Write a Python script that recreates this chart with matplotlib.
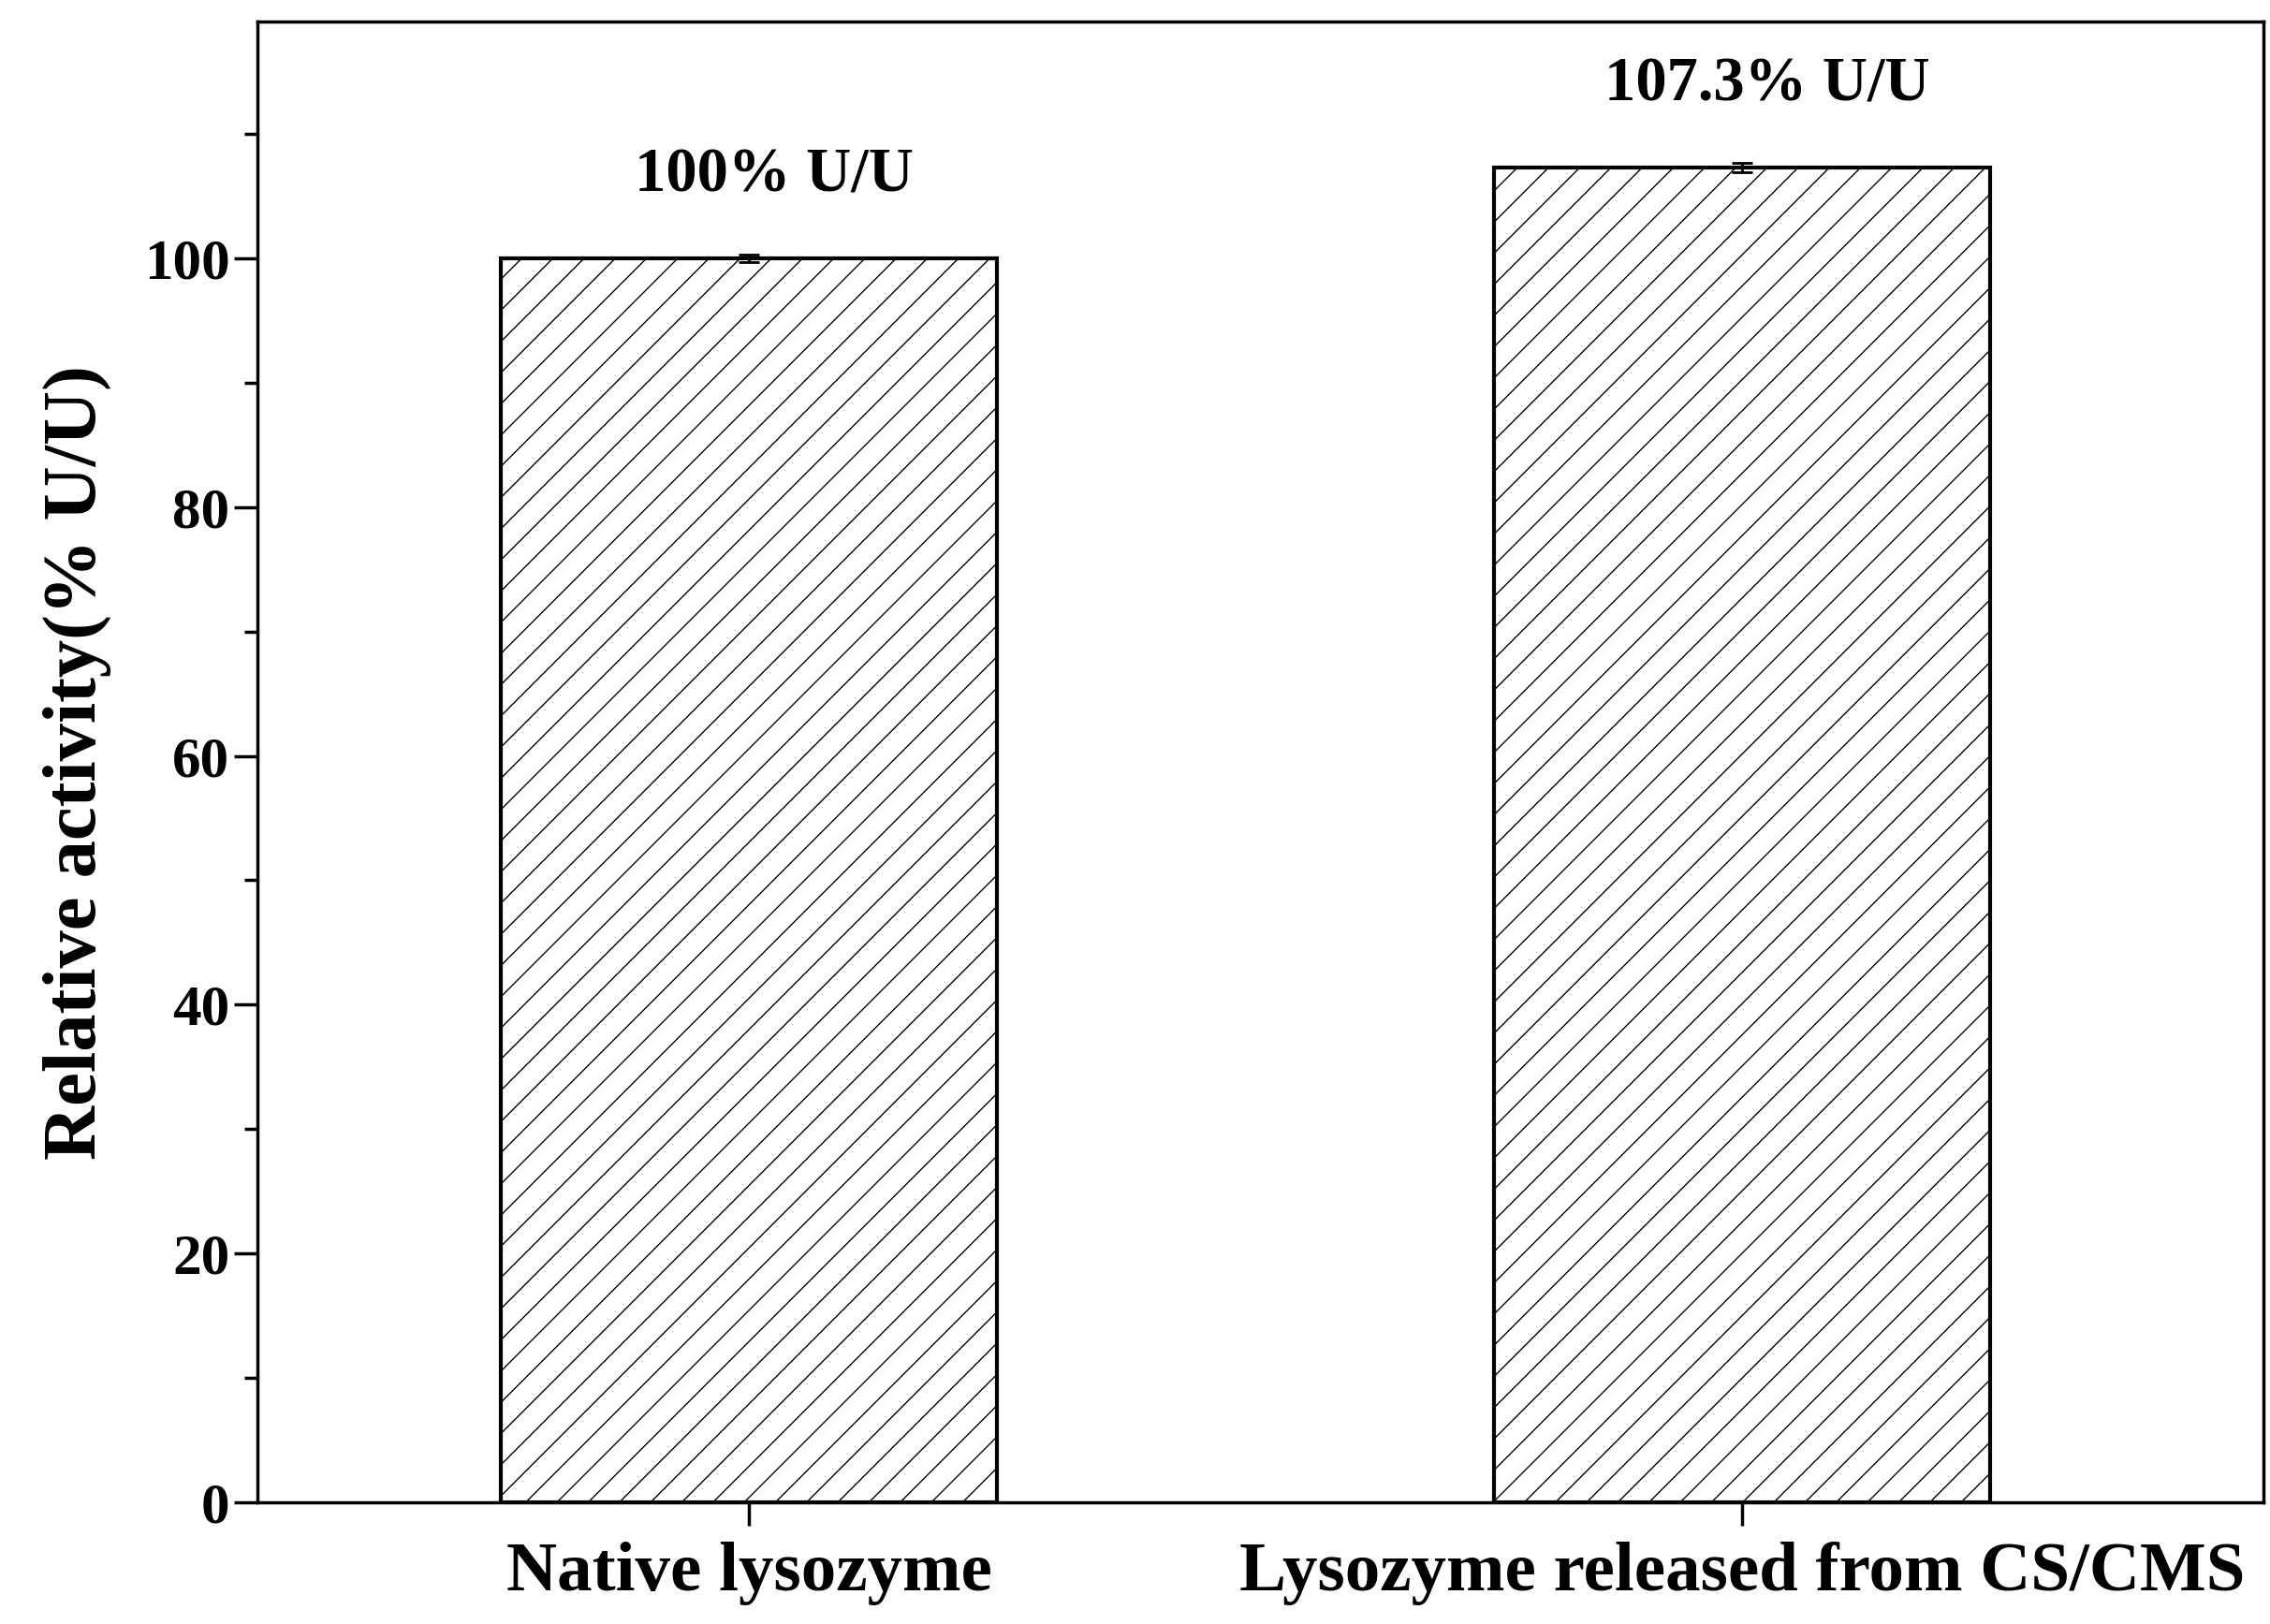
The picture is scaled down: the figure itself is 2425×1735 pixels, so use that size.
import matplotlib.pyplot as plt
from matplotlib.ticker import MultipleLocator

categories = ['Native lysozyme', 'Lysozyme released from CS/CMS']
activity = [100.0, 107.3]
errors = [0.3, 0.4]
labels = ['100% U/U', '107.3% U/U']

plt.rcParams['font.family'] = ['Liberation Serif', 'DejaVu Serif']
plt.rcParams['font.weight'] = 'bold'
plt.rcParams['hatch.linewidth'] = 1.0

fig = plt.figure(figsize=(24.25, 17.35), dpi=100)
ax = fig.add_axes([0.1135, 0.075, 0.8835, 0.9115])

x = list(range(len(categories)))
ax.bar(x, activity, width=0.5, color='white', edgecolor='black', linewidth=3,
       hatch='/', yerr=errors, capsize=8, error_kw=dict(ecolor='black', elinewidth=2, capthick=2))
for xi, v, t in zip(x, activity, labels):
    ax.text(xi + 0.025, v + 4.3, t, ha='center', va='bottom', fontsize=48, fontweight='bold')

ax.set_xlim(-0.495, 1.525)
ax.set_ylim(0, 119)
ax.set_xticks(x)
ax.set_xticklabels(categories, fontsize=54, fontweight='bold')
ax.yaxis.set_major_locator(MultipleLocator(20))
ax.yaxis.set_minor_locator(MultipleLocator(10))
ax.tick_params(axis='y', labelsize=44, width=2.5, length=18, direction='out')
ax.tick_params(axis='y', which='minor', width=2.5, length=10)
ax.tick_params(axis='x', width=2.5, length=18, pad=12)
for lab in ax.get_yticklabels():
    lab.set_fontweight('bold')
ax.set_ylabel('Relative activity(% U/U)', fontsize=58, fontweight='bold', labelpad=25)
for s in ax.spines.values():
    s.set_linewidth(2.5)

fig.savefig('out.png', dpi=100)
